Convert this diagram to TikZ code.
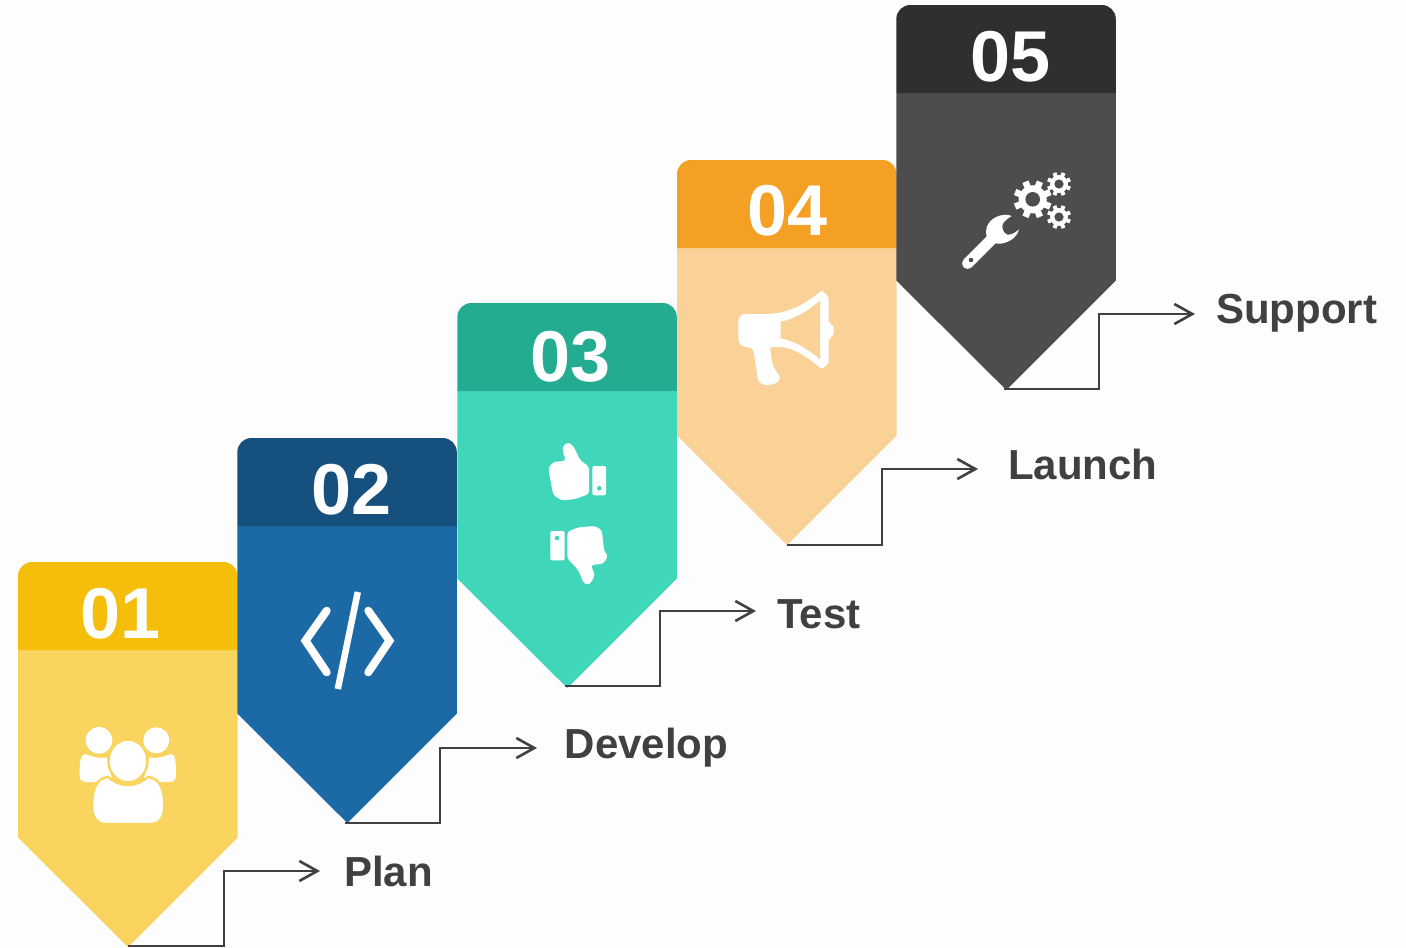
\documentclass[tikz,border=0pt]{standalone}
\usepackage{fontspec}
\setmainfont{Liberation Sans}
\usetikzlibrary{arrows.meta}
\definecolor{back}{HTML}{FDFDFD}
\definecolor{labelgrey}{HTML}{404040}
\definecolor{planhead}{HTML}{F5BE0B}
\definecolor{planbody}{HTML}{F9D45F}
\definecolor{devhead}{HTML}{16507E}
\definecolor{devbody}{HTML}{1C6AA5}
\definecolor{testhead}{HTML}{24AC91}
\definecolor{testbody}{HTML}{3FD6BA}
\definecolor{launchhead}{HTML}{F4A024}
\definecolor{launchbody}{HTML}{FAD298}
\definecolor{supporthead}{HTML}{2F2F2F}
\definecolor{supportbody}{HTML}{4D4D4D}
\tikzstyle{stepnum} = [white, inner sep=0pt, font=\fontsize{72}{72}\selectfont\bfseries]
\tikzstyle{steplabel} = [labelgrey, inner sep=0pt, anchor=base west, font=\fontsize{42}{42}\selectfont\bfseries]
\tikzstyle{arrow} = [labelgrey, line width=2.5pt, -{Straight Barb[length=18pt,width=20pt,line width=2.6pt]}]
\tikzstyle{icon} = [fill=white, draw=none]
% #1 left x, #2 top y, #3 head colour, #4 body colour
\newcommand{\stepshape}[4]{
	\fill [#4] (#1,#2+88) -- (#1+219.5,#2+88) -- (#1+219.5,#2+275.5) -- (#1+110,#2+385) -- (#1,#2+275.5) -- cycle;
	\fill [#3, rounded corners=14pt] (#1,#2+88) -- (#1,#2) -- (#1+219.5,#2) -- (#1+219.5,#2+60) [sharp corners] -- (#1+219.5,#2+88) -- cycle;
}
% #1 x, #2 y, #3 radius, #4 hole radius, #5 tooth width, #6 colour of hole
\newcommand{\gearicon}[6]{
	\fill [white] (#1,#2) circle (#3*0.74);
	\foreach \a in {0,45,...,135} {
		\draw [white, line width=#5pt] ({#1+#3*cos(\a+22.5)},{#2+#3*sin(\a+22.5)}) -- ({#1-#3*cos(\a+22.5)},{#2-#3*sin(\a+22.5)});
	}
	\fill [#6] (#1,#2) circle (#4);
}

\begin{document}
\begin{tikzpicture}[x=1pt,y=-1pt]

		\useasboundingbox (0,0) rectangle (1406,948);
		\fill [back] (0,0) rectangle (1406,948);

		\stepshape{18}{562}{planhead}{planbody}
		\stepshape{237.3}{438}{devhead}{devbody}
		\stepshape{457.3}{303}{testhead}{testbody}
		\stepshape{677}{160}{launchhead}{launchbody}
		\stepshape{896.3}{5}{supporthead}{supportbody}

		\node (num1) [stepnum] at (120.5,613.5) {01};
		\node (num2) [stepnum] at (351.5,489.5) {02};
		\node (num3) [stepnum] at (570.5,356.5) {03};
		\node (num4) [stepnum] at (787.5,210.5) {04};
		\node (num5) [stepnum] at (1010.5,56.5) {05};

		\node (plan) [steplabel] at (344,886) {Plan};
		\node (develop) [steplabel] at (564.5,758) {Develop};
		\node (test) [steplabel] at (777,628) {Test};
		\node (launch) [steplabel] at (1008,479) {Launch};
		\node (support) [steplabel] at (1216,323) {Support};

		\coordinate (plantip) at (128,946);
		\coordinate (planbend) at (224,871);
		\coordinate (planend) at (320,871);
		\coordinate (devtip) at (345,823);
		\coordinate (devbend) at (440,748);
		\coordinate (devend) at (537,748);
		\coordinate (testtip) at (565,686);
		\coordinate (testbend) at (660,611);
		\coordinate (testend) at (756,611);
		\coordinate (launchtip) at (787,545);
		\coordinate (launchbend) at (882,469);
		\coordinate (launchend) at (978,469);
		\coordinate (supporttip) at (1004,389);
		\coordinate (supportbend) at (1099,314);
		\coordinate (supportend) at (1195,314);

		\draw [arrow] (plantip) -| (planbend) -- (planend);
		\draw [arrow] (devtip) -| (devbend) -- (devend);
		\draw [arrow] (testtip) -| (testbend) -- (testend);
		\draw [arrow] (launchtip) -| (launchbend) -- (launchend);
		\draw [arrow] (supporttip) -| (supportbend) -- (supportend);

		% people
		\fill [icon] (99,740.3) circle (13.3);
		\fill [icon] (156.3,740.3) circle (13);
		\fill [icon] (85,754) .. controls (90,755) and (95,759) .. (107,757.5) -- (112,778) -- (97,782) -- (87,782) .. controls (81,782) and (79.5,779) .. (79.5,775) .. controls (79.5,765) and (80,754) .. (85,754) -- cycle;
		\fill [icon] (171,754) .. controls (166,755) and (161,759) .. (149,757.5) -- (144,778) -- (159,782) -- (169,782) .. controls (174,782) and (176,779) .. (176,775) .. controls (176,765) and (176,754) .. (171,754) -- cycle;
		\draw [icon, draw=planbody, line width=2.5pt] (128,761) ellipse (19.5 and 21.5);
		\draw [icon, draw=planbody, line width=2.5pt] (92,806) .. controls (92,790) and (96,778) .. (108,777) .. controls (113,781) and (120,785) .. (128,785) .. controls (136,785) and (143,781) .. (148,777) .. controls (160,778) and (164.5,790) .. (164.5,806) .. controls (164.5,817) and (159,824) .. (152,824) -- (105,824) .. controls (97,824) and (92,817) .. (92,806) -- cycle;

		% code brackets
		\draw [white, line width=8pt, line cap=round, miter limit=10] (326.7,610.7) -- (305.5,640.7) -- (326.7,672.3);
		\draw [white, line width=8pt, line cap=round, miter limit=10] (368.3,610.7) -- (389.5,640.7) -- (368.3,672.3);
		\draw [white, line width=6.5pt] (357.8,592) -- (337.8,689);

		% thumbs
		\fill [icon, rounded corners=3pt] (568.3,442) -- (562.7,446) -- (562.7,451.7) -- (566,460.7) -- (553.3,462) -- (548.2,468.3) -- (553.3,495) -- (561.7,500.5) -- (575,499) -- (589,494) -- (589,466.7) -- (580,460) -- (573.8,446.7) -- cycle;
		\fill [icon, rounded corners=2pt] (592.3,466) rectangle (606,495.3);
		\fill [testbody] (599.3,488.3) circle (2.3);
		\fill [icon, rounded corners=2pt] (550.3,531) rectangle (564.7,560.3);
		\fill [testbody] (557,538) circle (2.3);
		\fill [icon, rounded corners=3pt] (567.3,531.7) -- (578.3,527.3) -- (595,526) -- (601.7,530) -- (604.3,551.7) -- (608.2,556) -- (603.3,563.8) -- (590.7,565) -- (595,575) -- (590,584.5) -- (584,584) -- (578.3,570) -- (567.3,558.3) -- cycle;

		% megaphone
		\fill [icon, rounded corners=2pt] (821.7,290.7) -- (828.7,296.7) -- (828.7,323.3) .. controls (835,325) and (835,336) .. (828.7,338.3) -- (828.7,363.3) -- (821.7,369.3) .. controls (805,355) and (795,349) .. (780,346.7) -- (770,347.3) -- (771.7,360) -- (773.3,366.7) -- (780.7,378.3) -- (776.7,383.3) -- (765,385.5) -- (758.3,381.7) -- (753.3,349) [sharp corners] -- (747,347) .. controls (741,347) and (738.3,343) .. (738.3,338) -- (738.3,322) .. controls (738.3,317) and (741,314) .. (746,314) -- (768,314) .. controls (790,313) and (805,304) .. (821.7,290.7) -- cycle;
		\fill [launchbody] (780.7,321.7) .. controls (795,319) and (808,311) .. (820,300.7) -- (820,359.3) .. controls (808,349) and (795,341) .. (780.7,338.3) -- cycle;

		% wrench and gears
		\fill [icon] (1011.7,216) .. controls (1003,212) and (986,218) .. (986,232) .. controls (986,243) and (997,245) .. (1004,243) .. controls (1012,241) and (1018,235) .. (1019,229.5) .. controls (1014,234) and (1010,235) .. (1007,234.5) .. controls (1003,233) and (1002,228) .. (1002.5,225) .. controls (1003,222) and (1007,219) .. (1011.7,216) -- cycle;
		\draw [white, line width=11pt, line cap=round] (992,239) -- (967.5,263.5);
		\fill [supportbody] (971,260) circle (2.3);
		\gearicon{1032.7}{199.3}{19}{7.3}{6.5}{supportbody}
		\gearicon{1059}{184}{12}{4.6}{4}{supportbody}
		\gearicon{1059}{217}{12}{4.6}{4}{supportbody}

\end{tikzpicture}
\end{document}
